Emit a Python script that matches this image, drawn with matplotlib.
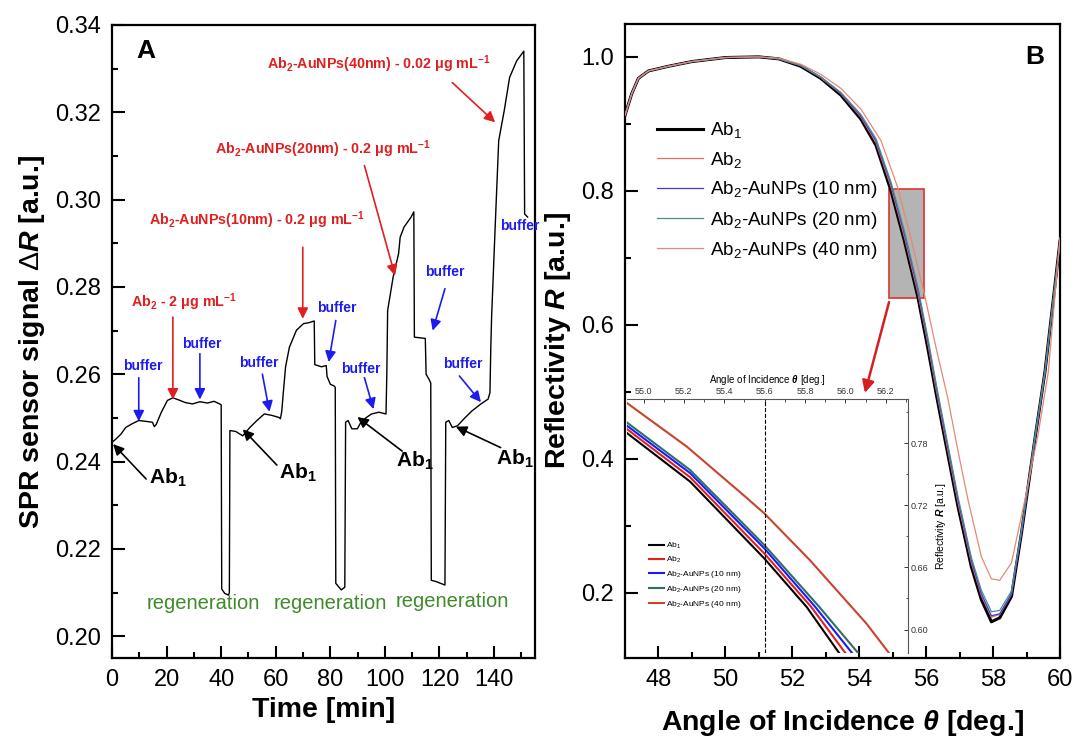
import matplotlib
matplotlib.use("Agg")
import matplotlib.pyplot as plt
from matplotlib.patches import Rectangle
from matplotlib.ticker import MultipleLocator

plt.rcParams['font.family'] = ['Liberation Sans', 'DejaVu Sans']
plt.rcParams['mathtext.fontset'] = 'custom'
plt.rcParams['mathtext.rm'] = 'Liberation Sans'
plt.rcParams['mathtext.it'] = 'Liberation Sans:italic:bold'
plt.rcParams['mathtext.bf'] = 'Liberation Sans:bold'

# ---- panel A: SPR sensorgram ----
time_min = [0, 1.5, 3.3, 5, 7.2, 9.8, 12.5, 14.8, 15.5, 16.2, 18, 20.3, 22.3, 24.5, 26.9,
            29.5, 32.2, 35, 37.4, 39.4, 40.0, 40.2, 41.3, 42.7, 43.0, 43.2, 45.3, 47.9,
            50.5, 53.1, 55.8, 58.4, 61.2, 61.7, 62.2, 62.8, 63.6, 65, 67.6, 70.2, 72.1,
            74.1, 74.3, 76.8, 78.5, 78.8, 80, 81.4, 81.8, 82.0, 84, 85.3, 85.6, 86.5,
            87.9, 89.9, 91.2, 93, 95.1, 97.8, 100.4, 100.7, 101, 103, 105, 105.6, 107,
            109.6, 110.6, 110.8, 114.8, 115.1, 116.1, 116.8, 117.0, 118.8, 122, 122.3,
            123.4, 124.7, 126.6, 129.3, 131.9, 135.2, 137.8, 138.5, 138.8, 139.1, 140.4,
            141.7, 143.7, 145.7, 148.3, 150.9, 151.2, 152.3]
signal = [0.2444, 0.2452, 0.2463, 0.2478, 0.2486, 0.2494, 0.2492, 0.2490, 0.2480, 0.2485,
          0.2512, 0.2540, 0.2546, 0.2541, 0.2535, 0.2532, 0.2537, 0.2534, 0.2538, 0.2532,
          0.2530, 0.2108, 0.2098, 0.2094, 0.2100, 0.2471, 0.2469, 0.2459, 0.2478, 0.2494,
          0.2509, 0.2506, 0.2501, 0.2498, 0.2515, 0.2560, 0.2617, 0.2662, 0.2701, 0.2716,
          0.2718, 0.2722, 0.2622, 0.2617, 0.2620, 0.2595, 0.2577, 0.2573, 0.2570, 0.2121,
          0.2106, 0.2112, 0.2490, 0.2494, 0.2475, 0.2475, 0.2490, 0.2500, 0.2509, 0.2513,
          0.2509, 0.2600, 0.2746, 0.2822, 0.2876, 0.2914, 0.2937, 0.2960, 0.2972, 0.2685,
          0.2682, 0.2600, 0.2589, 0.2580, 0.2128, 0.2125, 0.2117, 0.2490, 0.2494, 0.2478,
          0.2482, 0.2500, 0.2516, 0.2532, 0.2543, 0.2558, 0.2660, 0.2731, 0.2937, 0.3135,
          0.3203, 0.3280, 0.3318, 0.3340, 0.2967, 0.2960]

# ---- panel B: reflectivity curves ----
angle = [47.0, 47.2, 47.4, 47.7, 48.3, 49.0, 50.0, 51.0, 51.6, 52.25, 52.85, 53.45, 54.05,
         54.5, 54.95, 55.35, 55.75, 56.05, 56.3, 56.55, 56.95, 57.35, 57.65, 57.95, 58.2,
         58.55, 58.85, 59.25, 59.55, 60.0]
R_ab1 = [0.913, 0.945, 0.968, 0.979, 0.986, 0.993, 0.999, 1.000, 0.997, 0.986, 0.968, 0.943,
         0.907, 0.868, 0.800, 0.725, 0.642, 0.565, 0.497, 0.432, 0.329, 0.239, 0.190, 0.157,
         0.163, 0.195, 0.290, 0.430, 0.530, 0.725]
R_ab2 = [0.913, 0.945, 0.968, 0.979, 0.986, 0.993, 0.999, 1.000, 0.997, 0.987, 0.969, 0.945,
         0.910, 0.872, 0.806, 0.731, 0.648, 0.572, 0.503, 0.438, 0.335, 0.245, 0.196, 0.164,
         0.168, 0.198, 0.292, 0.432, 0.531, 0.726]
R_au10 = [0.913, 0.945, 0.968, 0.979, 0.986, 0.993, 0.999, 1.000, 0.997, 0.987, 0.970, 0.946,
          0.912, 0.875, 0.810, 0.736, 0.653, 0.577, 0.508, 0.443, 0.340, 0.249, 0.199, 0.166,
          0.169, 0.199, 0.290, 0.428, 0.527, 0.722]
R_au20 = [0.913, 0.945, 0.968, 0.979, 0.986, 0.993, 0.999, 1.000, 0.997, 0.987, 0.970, 0.947,
          0.914, 0.878, 0.813, 0.740, 0.657, 0.581, 0.512, 0.447, 0.344, 0.253, 0.204, 0.172,
          0.174, 0.203, 0.294, 0.431, 0.529, 0.724]
angle_40 = [47.0, 47.2, 47.4, 47.7, 48.3, 49.0, 50.0, 51.0, 51.6, 52.25, 52.85, 53.45, 54.05,
            54.65, 55.15, 55.55, 55.95, 56.3, 56.65, 56.95, 57.25, 57.65, 57.95, 58.2, 58.55,
            58.95, 59.35, 59.65, 60.0]
R_au40 = [0.913, 0.945, 0.968, 0.979, 0.986, 0.993, 0.999, 1.000, 0.998, 0.989, 0.974, 0.953,
          0.922, 0.875, 0.805, 0.728, 0.645, 0.565, 0.490, 0.412, 0.339, 0.254, 0.221, 0.219,
          0.245, 0.339, 0.438, 0.530, 0.730]

# ---- inset (zoom 54.9 - 56.3 deg) ----
in_ab1_x = [54.918, 55.231, 55.598, 55.808, 55.969]
in_ab1_y = [0.7897, 0.7428, 0.6687, 0.6218, 0.5773]
in_ab2_x = [54.918, 55.231, 55.598, 55.830, 56.000]
in_ab2_y = [0.7936, 0.7470, 0.6735, 0.6220, 0.5773]
in_au10_x = [54.918, 55.231, 55.598, 55.850, 56.033]
in_au10_y = [0.7968, 0.7510, 0.6784, 0.6220, 0.5773]
in_au20_x = [54.918, 55.231, 55.598, 55.870, 56.063]
in_au20_y = [0.7999, 0.7540, 0.6816, 0.6220, 0.5773]
in_au40_x = [54.918, 55.214, 55.494, 55.598, 55.824, 56.104, 56.216]
in_au40_y = [0.8187, 0.7767, 0.7300, 0.7122, 0.6670, 0.6058, 0.5773]

labels = [r'Ab$_1$', r'Ab$_2$', r'Ab$_2$-AuNPs (10 nm)', r'Ab$_2$-AuNPs (20 nm)',
          r'Ab$_2$-AuNPs (40 nm)']

RED = '#e02020'
BLUE = '#1c1cf0'
GREEN = '#3f8a2a'

fig = plt.figure(figsize=(10.73, 7.44), dpi=100)


def style_axes(ax):
    for s in ax.spines.values():
        s.set_linewidth(1.6)
    ax.tick_params(which='major', direction='in', length=9, width=1.5, labelsize=17, pad=8)
    ax.tick_params(which='minor', direction='in', length=4.5, width=1.5)


# ================= panel A =================
axA = fig.add_axes([0.1044, 0.1156, 0.3942, 0.8508])
axA.plot(time_min, signal, color='black', lw=1.0)
axA.set_xlim(0, 155)
axA.set_ylim(0.195, 0.34)
axA.xaxis.set_major_locator(MultipleLocator(20))
axA.xaxis.set_minor_locator(MultipleLocator(10))
axA.yaxis.set_major_locator(MultipleLocator(0.02))
axA.yaxis.set_minor_locator(MultipleLocator(0.01))
axA.yaxis.set_major_formatter(matplotlib.ticker.FormatStrFormatter('%.2f'))
style_axes(axA)
axA.set_xlabel('Time [min]', fontsize=20.5, fontweight='bold', labelpad=4)
axA.set_ylabel(r'SPR sensor signal $ΔR$ [a.u.]', fontsize=20.5, fontweight='bold', labelpad=6)
axA.text(12.5, 0.334, 'A', fontsize=19, fontweight='bold', ha='center', va='center')

arrow_kw = dict(arrowstyle='-|>', lw=1.2, mutation_scale=16, shrinkA=0, shrinkB=0)

# red injections
red_notes = [
    (r'Ab$_\mathbf{2}$-AuNPs(40nm) - 0.02 μg mL$^\mathbf{-1}$', (97.8, 0.331), (124.7, 0.3268), (140.4, 0.3177)),
    (r'Ab$_\mathbf{2}$-AuNPs(20nm) - 0.2 μg mL$^\mathbf{-1}$', (77.4, 0.3116), (92.5, 0.3078), (103.7, 0.2826)),
    (r'Ab$_\mathbf{2}$-AuNPs(10nm) - 0.2 μg mL$^\mathbf{-1}$', (53.1, 0.2952), (69.9, 0.2891), (69.9, 0.2727)),
    (r'Ab$_\mathbf{2}$ - 2 μg mL$^\mathbf{-1}$', (26.2, 0.2765), (22.3, 0.2731), (22.3, 0.2542)),
]
for txt, pos, tail, tip in red_notes:
    axA.text(pos[0], pos[1], txt, color=RED, fontsize=10.3, fontweight='bold', ha='center', va='center')
    axA.annotate('', xy=tip, xytext=tail, arrowprops=dict(color=RED, **arrow_kw))

# buffer steps
buffer_notes = [
    ((11.2, 0.2618), (9.8, 0.2592), (9.8, 0.2492)),
    ((32.9, 0.2670), (32.2, 0.2647), (32.2, 0.2542)),
    ((53.8, 0.2626), (55.1, 0.2600), (57.7, 0.2514)),
    ((82.3, 0.2752), (82.0, 0.2723), (79.4, 0.2628)),
    ((91.2, 0.2611), (92.5, 0.2592), (95.8, 0.2520)),
    ((121.8, 0.2834), (122.0, 0.2796), (117.5, 0.2700)),
    ((128.6, 0.2624), (127.3, 0.2596), (135.2, 0.2536)),
]
for pos, tail, tip in buffer_notes:
    axA.text(pos[0], pos[1], 'buffer', color=BLUE, fontsize=10, fontweight='bold', ha='center', va='center')
    axA.annotate('', xy=tip, xytext=tail, arrowprops=dict(color=BLUE, **arrow_kw))
axA.text(149.5, 0.294, 'buffer', color=BLUE, fontsize=10, fontweight='bold', ha='center', va='center')

# Ab1 immobilisation
ab1_notes = [
    ((20.3, 0.2362), (12.5, 0.2360), (0.4, 0.2440)),
    ((68.2, 0.2375), (60.4, 0.2392), (47.9, 0.2474)),
    ((110.9, 0.2402), (106.3, 0.2424), (89.9, 0.2502)),
    ((147.6, 0.2406), (142.4, 0.2432), (126.0, 0.2480)),
]
for pos, tail, tip in ab1_notes:
    axA.text(pos[0], pos[1], r'Ab$_\mathbf{1}$', fontsize=15, fontweight='bold', ha='center', va='center')
    axA.annotate('', xy=tip, xytext=tail, arrowprops=dict(color='black', **arrow_kw))

for tx, ty in [(33.5, 0.2075), (80.0, 0.2075), (124.7, 0.2079)]:
    axA.text(tx, ty, 'regeneration', color=GREEN, fontsize=14.5, ha='center', va='center')

# ================= panel B =================
axB = fig.add_axes([0.5825, 0.1156, 0.4054, 0.8521])
axB.add_patch(Rectangle((54.9, 0.640), 1.05, 0.163, facecolor='#b4b4b4', edgecolor='#e03030',
                        lw=1.2, zorder=1.5))
axB.plot(angle, R_ab1, color='black', lw=2.2, label=labels[0], zorder=3)
axB.plot(angle, R_ab2, color='#ee6a60', lw=0.9, label=labels[1], zorder=3)
axB.plot(angle, R_au10, color='#3a3aee', lw=0.9, label=labels[2], zorder=3)
axB.plot(angle, R_au20, color='#4a9088', lw=0.9, label=labels[3], zorder=3)
axB.plot(angle_40, R_au40, color='#e48878', lw=0.9, label=labels[4], zorder=3)
axB.set_xlim(47, 60)
axB.set_ylim(0.103, 1.049)
axB.xaxis.set_major_locator(MultipleLocator(2))
axB.xaxis.set_minor_locator(MultipleLocator(1))
axB.yaxis.set_major_locator(MultipleLocator(0.2))
axB.yaxis.set_minor_locator(MultipleLocator(0.1))
style_axes(axB)
axB.set_xlabel(r'Angle of Incidence $\theta$ [deg.]', fontsize=20.5, fontweight='bold', labelpad=12)
axB.set_ylabel(r'Reflectivity $R$ [a.u.]', fontsize=20.5, fontweight='bold', labelpad=6)
axB.text(59.25, 1.0, 'B', fontsize=19, fontweight='bold', ha='center', va='center')
axB.legend(loc='upper left', bbox_to_anchor=(0.035, 0.875), frameon=False, fontsize=13.6,
           handlelength=2.4, handletextpad=0.4, labelspacing=0.5)
axB.annotate('', xy=(54.17, 0.4985), xytext=(54.89, 0.634),
             arrowprops=dict(color='#d42020', arrowstyle='-|>', lw=1.8, mutation_scale=18,
                             shrinkA=0, shrinkB=0))

# ================= inset =================
axI = fig.add_axes([0.5843, 0.1223, 0.2619, 0.3414])
axI.patch.set_alpha(0)
axI.plot(in_ab1_x, in_ab1_y, color='black', lw=1.5, label=labels[0])
axI.plot(in_ab2_x, in_ab2_y, color='#e0201c', lw=1.5, label=labels[1])
axI.plot(in_au10_x, in_au10_y, color='#1a1aff', lw=1.5, label=labels[2])
axI.plot(in_au20_x, in_au20_y, color='#2f6e68', lw=1.5, label=labels[3])
axI.plot(in_au40_x, in_au40_y, color='#c8442c', lw=1.5, label=labels[4])
axI.axvline(55.6, color='black', ls='--', lw=0.8)
axI.set_xlim(54.918, 56.31)
axI.set_ylim(0.5773, 0.8226)
axI.xaxis.tick_top()
axI.yaxis.tick_right()
axI.xaxis.set_label_position('top')
axI.yaxis.set_label_position('right')
axI.spines['left'].set_visible(False)
axI.spines['bottom'].set_visible(False)
for s in ['top', 'right']:
    axI.spines[s].set_linewidth(0.8)
    axI.spines[s].set_color('#555555')
axI.xaxis.set_major_locator(MultipleLocator(0.2))
axI.xaxis.set_minor_locator(MultipleLocator(0.1))
axI.yaxis.set_major_locator(MultipleLocator(0.06))
axI.yaxis.set_minor_locator(MultipleLocator(0.03))
axI.xaxis.set_major_formatter(matplotlib.ticker.FormatStrFormatter('%.1f'))
axI.yaxis.set_major_formatter(matplotlib.ticker.FormatStrFormatter('%.2f'))
axI.tick_params(which='major', direction='in', length=3, width=0.7, labelsize=6.5, pad=2,
                colors='#333333')
axI.tick_params(which='minor', direction='in', length=1.8, width=0.6, colors='#333333')
axI.set_xlabel(r'Angle of Incidence $\theta$ [deg.]', fontsize=7, labelpad=3)
axI.set_ylabel(r'Reflectivity $R$ [a.u.]', fontsize=7.5, labelpad=4)
axI.legend(loc='upper left', bbox_to_anchor=(0.05, 0.47), frameon=False, fontsize=6,
           handlelength=1.8, handletextpad=0.3, labelspacing=0.45)

fig.savefig('out.png', dpi=100)
